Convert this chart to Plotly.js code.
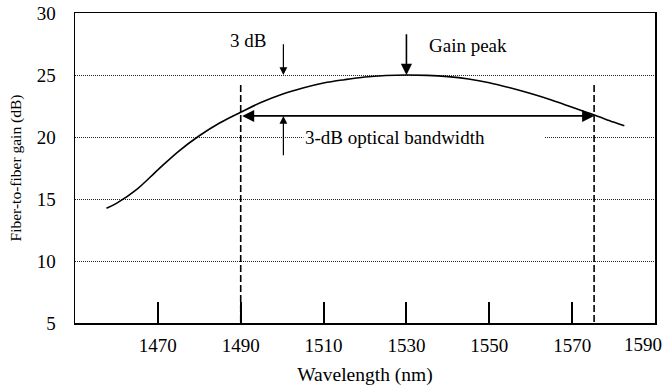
<!DOCTYPE html>
<html>
<head>
<meta charset="utf-8">
<script src="https://cdn.plot.ly/plotly-3.0.1.min.js"></script>
<style>html,body{margin:0;padding:0;background:#fff;}#chart{width:667px;height:386px;}</style>
</head>
<body>
<div id="chart"></div>
<script>
// Gain curve
var wavelength = [1457.6, 1460, 1465, 1470, 1475, 1480, 1485, 1490, 1495, 1500, 1505, 1510, 1515, 1520, 1525, 1530, 1535, 1540, 1545, 1550, 1555, 1560, 1565, 1570, 1575, 1580, 1582.6];
var gain       = [14.25,  14.65, 15.8, 17.35, 18.85, 20.1, 21.15, 22.0, 22.8, 23.45, 23.95, 24.35, 24.62, 24.84, 24.96, 25.0, 24.97, 24.87, 24.68, 24.38, 23.97, 23.5, 22.98, 22.4, 21.82, 21.2, 20.9];

// Markers of the 3-dB band
var bandEdges = [1490.0, 1575.3];
var bandLineTop = 24.2;
var axisFloor = 5;
var bandArrowLevel = 21.7;
var peakWavelength = 1530;
var peakGain = 25;
var threeDbWavelength = 1500.3;

// Axis ticks
var xTicks = [1470, 1490, 1510, 1530, 1550, 1570, 1590];
var xTickText = ['1470', '1490', '1510', '1530', '1550', '1570', ''];
var lastXTickText = '1590';
var yTicks = [5, 10, 15, 20, 25, 30];

var font = {family: '"Liberation Serif", "Times New Roman", serif', color: '#000'};

var traces = [
  {x: wavelength, y: gain, mode: 'lines', line: {color: '#000', width: 1.6, shape: 'spline', smoothing: 1}, hoverinfo: 'skip'},
  {x: [bandEdges[0], bandEdges[0]], y: [bandLineTop, axisFloor], mode: 'lines', line: {color: '#000', width: 1.6, dash: '7px,3px'}, hoverinfo: 'skip'},
  {x: [bandEdges[1], bandEdges[1]], y: [bandLineTop, axisFloor], mode: 'lines', line: {color: '#000', width: 1.6, dash: '7px,3px'}, hoverinfo: 'skip'}
];

var annFont = Object.assign({}, font, {size: 19});

var layout = {
  width: 667, height: 386,
  margin: {l: 75, r: 12, t: 13, b: 63},
  paper_bgcolor: '#fff', plot_bgcolor: '#fff',
  showlegend: false,
  font: font,
  xaxis: {
    range: [1450, 1590], tickvals: xTicks, ticktext: xTickText,
    ticks: 'inside', ticklen: 21, tickwidth: 2, tickcolor: '#000',
    showgrid: false, zeroline: false,
    showline: true, mirror: true, linecolor: '#000', linewidth: 1.5,
    tickfont: Object.assign({}, font, {size: 19}),
    ticklabelstandoff: 5,
    title: {text: 'Wavelength (nm)', font: Object.assign({}, font, {size: 19.5}), standoff: 29},
    automargin: false
  },
  yaxis: {
    range: [5, 30], tickvals: yTicks, ticktext: yTicks.map(String),
    ticks: '', showgrid: true, gridcolor: '#222', gridwidth: 1, griddash: '1px,1px',
    zeroline: false,
    showline: true, mirror: true, linecolor: '#000', linewidth: 1.5,
    tickfont: Object.assign({}, font, {size: 19}),
    ticklabelstandoff: 14,
    title: {text: 'Fiber-to-fiber gain (dB)', font: Object.assign({}, font, {size: 15.5}), standoff: 11},
    automargin: false
  },
  annotations: [
    {x: xTicks[xTicks.length - 1], y: 0, xref: 'x', yref: 'paper', text: lastXTickText, showarrow: false,
     font: Object.assign({}, font, {size: 19}), xanchor: 'right', yanchor: 'middle', xshift: 9, yshift: -21.5},
    {x: 1491.8, y: 27.8, xref: 'x', yref: 'y', text: '3 dB', showarrow: false, font: annFont},
    {x: 1544.8, y: 27.4, xref: 'x', yref: 'y', text: 'Gain peak', showarrow: false, font: annFont},
    {x: 1505, y: 20, xref: 'x', yref: 'y', text: '3-dB optical bandwidth', showarrow: false, font: annFont,
     xanchor: 'left', width: 238, align: 'left', bgcolor: '#fff'},
    // 3 dB arrows
    {x: threeDbWavelength, y: peakGain, ax: threeDbWavelength, ay: 27.6, axref: 'x', ayref: 'y', xref: 'x', yref: 'y',
     text: '', showarrow: true, arrowhead: 2, arrowsize: 1.3, arrowwidth: 1.2, arrowcolor: '#000', standoff: 0},
    {x: threeDbWavelength, y: bandArrowLevel, ax: threeDbWavelength, ay: 18.4, axref: 'x', ayref: 'y', xref: 'x', yref: 'y',
     text: '', showarrow: true, arrowhead: 2, arrowsize: 1.3, arrowwidth: 1.2, arrowcolor: '#000', standoff: 0},
    // gain peak arrow
    {x: peakWavelength, y: peakGain, ax: peakWavelength, ay: 28.4, axref: 'x', ayref: 'y', xref: 'x', yref: 'y',
     text: '', showarrow: true, arrowhead: 2, arrowsize: 1.4, arrowwidth: 1.6, arrowcolor: '#000', standoff: 0},
    // bandwidth double arrow
    {x: bandEdges[1], y: bandArrowLevel, ax: bandEdges[0], ay: bandArrowLevel, axref: 'x', ayref: 'y', xref: 'x', yref: 'y',
     text: '', showarrow: true, arrowhead: 2, startarrowhead: 2, arrowside: 'end+start', arrowsize: 1.5, startarrowsize: 1.5,
     arrowwidth: 1.6, arrowcolor: '#000', standoff: 0, startstandoff: 0}
  ]
};

Plotly.newPlot('chart', traces, layout, {staticPlot: true, displayModeBar: false});
</script>
</body>
</html>
